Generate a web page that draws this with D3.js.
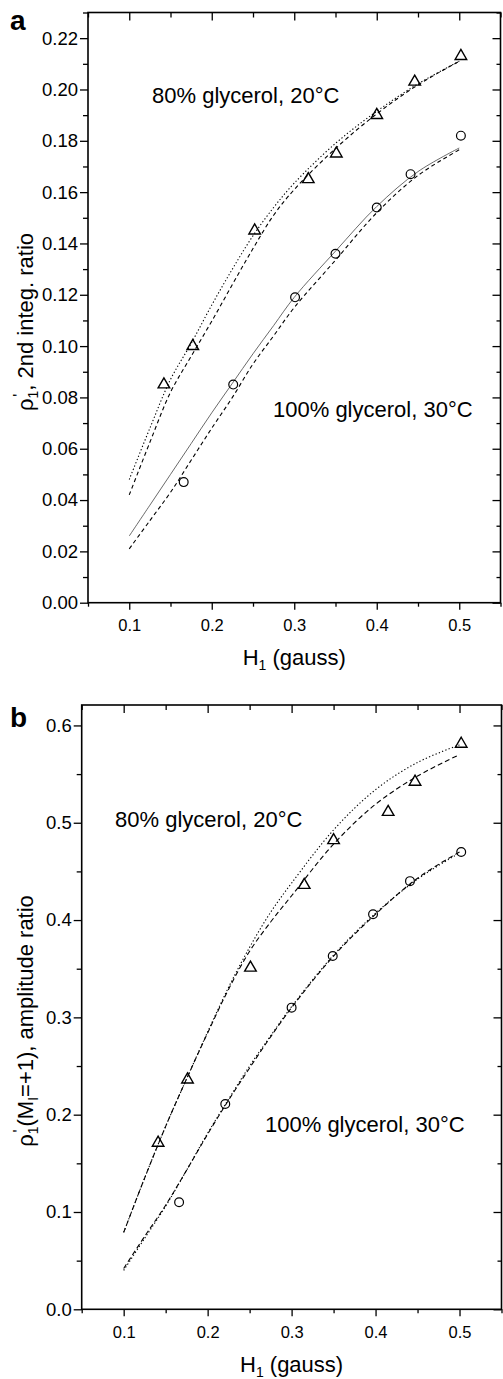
<!DOCTYPE html>
<html><head><meta charset="utf-8">
<script src="https://cdn.jsdelivr.net/npm/d3@7"></script>
<style>
body{margin:0;background:#fff}
svg{display:block}
text{font-family:"Liberation Sans",Arial,Helvetica,sans-serif;fill:#000}
</style>
</head><body>
<svg id="c" width="503" height="1379"></svg>
<script>
// ---------- data ----------
const X_MAJOR = [0.1, 0.2, 0.3, 0.4, 0.5];
const X_MINOR = [0.05, 0.15, 0.25, 0.35, 0.45, 0.55];
const Y_MAJOR_A = [0.00, 0.02, 0.04, 0.06, 0.08, 0.10, 0.12, 0.14, 0.16, 0.18, 0.20, 0.22];
const Y_MINOR_A = [0.01, 0.03, 0.05, 0.07, 0.09, 0.11, 0.13, 0.15, 0.17, 0.19, 0.21, 0.23];
const Y_MAJOR_B = [0.0, 0.1, 0.2, 0.3, 0.4, 0.5, 0.6];
const Y_MINOR_B = [0.05, 0.15, 0.25, 0.35, 0.45, 0.55];

// panel a measured points
const H_A80   = [0.142, 0.177, 0.252, 0.317, 0.351, 0.400, 0.446, 0.502];
const RHO_A80 = [0.085, 0.100, 0.145, 0.165, 0.175, 0.190, 0.203, 0.213];
const H_A100   = [0.166, 0.226, 0.301, 0.350, 0.400, 0.441, 0.502];
const RHO_A100 = [0.047, 0.085, 0.119, 0.136, 0.154, 0.167, 0.182];

// fitted curves
const FIT_H = [0.1, 0.125, 0.15, 0.175, 0.2, 0.225, 0.25, 0.275, 0.3, 0.35, 0.4, 0.45, 0.5];
const FIT_A80_DOT   = [0.048, 0.068, 0.087, 0.101, 0.116, 0.130, 0.143, 0.154, 0.1635, 0.179, 0.1915, 0.2022, 0.211];
const FIT_A80_DASH  = [0.042, 0.0625, 0.082, 0.096, 0.1097, 0.124, 0.138, 0.151, 0.161, 0.177, 0.1905, 0.2018, 0.211];
const FIT_A100_SOLID= [0.026, 0.038, 0.050, 0.062, 0.074, 0.0855, 0.097, 0.108, 0.119, 0.137, 0.1544, 0.168, 0.1772];
const FIT_A100_DASH = [0.021, 0.032, 0.043, 0.0555, 0.068, 0.080, 0.093, 0.104, 0.115, 0.1335, 0.152, 0.1665, 0.1765];

// panel b measured points
const H_B80   = [0.141, 0.176, 0.251, 0.315, 0.350, 0.415, 0.447, 0.502];
const RHO_B80 = [0.171, 0.236, 0.351, 0.436, 0.482, 0.511, 0.542, 0.581];
const H_B100   = [0.166, 0.221, 0.300, 0.349, 0.397, 0.441, 0.502];
const RHO_B100 = [0.110, 0.211, 0.310, 0.363, 0.406, 0.440, 0.470];

const FIT_B80_DOT   = [0.079, 0.135, 0.188, 0.237, 0.285, 0.331, 0.372, 0.408, 0.438, 0.4926, 0.534, 0.562, 0.580];
const FIT_B80_DASH  = [0.079, 0.135, 0.188, 0.237, 0.284, 0.329, 0.368, 0.398, 0.425, 0.478, 0.519, 0.548, 0.570];
const FIT_B100_DASH = [0.042, 0.075, 0.107, 0.143, 0.180, 0.215, 0.248, 0.280, 0.310, 0.363, 0.406, 0.443, 0.470];
const FIT_B100_DOT  = [0.040, 0.073, 0.106, 0.143, 0.181, 0.216, 0.250, 0.281, 0.311, 0.364, 0.407, 0.442, 0.469];

const LABEL_80 = "80% glycerol, 20°C";
const LABEL_100 = "100% glycerol, 30°C";

// ---------- drawing ----------
const svg = d3.select("#c");
const zip = (a, b) => a.map((v, i) => [v, b[i]]);

function panel(cfg) {
  const x = d3.scaleLinear().domain([0.05, 0.55]).range([cfg.left, cfg.right]);
  const y = d3.scaleLinear().domain([0, cfg.ymax]).range([cfg.bottom, cfg.top]);
  const g = svg.append("g");

  function styleAxis(sel, fs) {
    sel.select(".domain").remove();
    sel.selectAll("line").attr("stroke", "#000").attr("stroke-width", 1.3);
    sel.selectAll("text").attr("font-size", fs).attr("fill", "#000");
    sel.attr("font-family", null).attr("font-size", null);
  }

  // bottom
  g.append("g").attr("transform", `translate(0,${cfg.bottom})`)
    .call(d3.axisBottom(x).tickValues(X_MAJOR).tickFormat(d3.format(".1f")).tickSize(7).tickPadding(10))
    .call(s => styleAxis(s, 16.5));
  g.append("g").attr("transform", `translate(0,${cfg.bottom})`)
    .call(d3.axisBottom(x).tickValues(X_MINOR).tickFormat("").tickSize(4))
    .call(s => styleAxis(s, 16));
  // top (inward)
  g.append("g").attr("transform", `translate(0,${cfg.top})`)
    .call(d3.axisTop(x).tickValues(X_MAJOR).tickFormat("").tickSize(-8))
    .call(s => styleAxis(s, 16));
  g.append("g").attr("transform", `translate(0,${cfg.top})`)
    .call(d3.axisTop(x).tickValues(X_MINOR).tickFormat("").tickSize(-5))
    .call(s => styleAxis(s, 16));
  // left
  g.append("g").attr("transform", `translate(${cfg.left},0)`)
    .call(d3.axisLeft(y).tickValues(cfg.yMajor).tickFormat(d3.format(cfg.yfmt)).tickSize(8).tickPadding(2))
    .call(s => styleAxis(s, 18.5));
  g.append("g").attr("transform", `translate(${cfg.left},0)`)
    .call(d3.axisLeft(y).tickValues(cfg.yMinor).tickFormat("").tickSize(5))
    .call(s => styleAxis(s, 18.5));
  // right (inward)
  g.append("g").attr("transform", `translate(${cfg.right},0)`)
    .call(d3.axisRight(y).tickValues(cfg.yMajor).tickFormat("").tickSize(-8))
    .call(s => styleAxis(s, 18.5));
  g.append("g").attr("transform", `translate(${cfg.right},0)`)
    .call(d3.axisRight(y).tickValues(cfg.yMinor).tickFormat("").tickSize(-4))
    .call(s => styleAxis(s, 18.5));

  // frame
  g.append("rect").attr("x", cfg.left).attr("y", cfg.top)
    .attr("width", cfg.right - cfg.left).attr("height", cfg.bottom - cfg.top)
    .attr("fill", "none").attr("stroke", "#000").attr("stroke-width", 1.6);

  // curves
  const line = d3.line().x(d => x(d[0])).y(d => y(d[1])).curve(d3.curveCatmullRom.alpha(0.5));
  cfg.curves.forEach(c => {
    g.append("path").datum(zip(FIT_H, c.values)).attr("d", line)
      .attr("fill", "none").attr("stroke", c.color || "#000")
      .attr("stroke-width", c.width || 1.1)
      .attr("stroke-dasharray", c.dash || null);
  });

  // markers
  const tri = d3.symbol(d3.symbolTriangle, 58);
  g.selectAll(null).data(zip(cfg.triX, cfg.triY)).join("path")
    .attr("d", tri).attr("transform", d => `translate(${x(d[0])},${y(d[1])})`)
    .attr("fill", "none").attr("stroke", "#000").attr("stroke-width", 1.4);
  g.selectAll(null).data(zip(cfg.cirX, cfg.cirY)).join("circle")
    .attr("cx", d => x(d[0])).attr("cy", d => y(d[1])).attr("r", 4.4)
    .attr("fill", "none").attr("stroke", "#000").attr("stroke-width", 1.2);

  // annotations
  cfg.notes.forEach(n => {
    g.append("text").attr("x", n.x).attr("y", n.y).attr("font-size", 22).text(n.t);
  });

  // panel letter
  g.append("text").attr("x", 10).attr("y", cfg.letterY).attr("font-size", 28)
    .attr("font-weight", "bold").text(cfg.letter);

  // x title
  const xt = g.append("text").attr("x", (cfg.left + cfg.right) / 2).attr("y", cfg.xTitleY)
    .attr("text-anchor", "middle").attr("font-size", 22);
  xt.append("tspan").text("H");
  xt.append("tspan").attr("font-size", 14).attr("dy", 5).text("1");
  xt.append("tspan").attr("dy", -5).text(" (gauss)");

  // y title
  const yt = g.append("text").attr("transform", `translate(33,${cfg.yTitleY}) rotate(-90)`)
    .attr("text-anchor", "middle").attr("font-size", 22);
  cfg.yTitle(yt);

  return {x, y};
}

panel({
  left: 88, right: 500.5, top: 12.5, bottom: 602.7, ymax: 0.23,
  yMajor: Y_MAJOR_A, yMinor: Y_MINOR_A, yfmt: ".2f",
  curves: [
    {values: FIT_A80_DOT, dash: "1.3,2.2"},
    {values: FIT_A80_DASH, dash: "4,3"},
    {values: FIT_A100_SOLID, dash: null, width: 0.8, color: "#444"},
    {values: FIT_A100_DASH, dash: "4,3"}
  ],
  triX: H_A80, triY: RHO_A80, cirX: H_A100, cirY: RHO_A100,
  notes: [{x: 152, y: 103, t: LABEL_80}, {x: 273, y: 417, t: LABEL_100}],
  letter: "a", letterY: 30, xTitleY: 665, yTitleY: 322,
  yTitle: t => {
    t.append("tspan").text("ρ");
    t.append("tspan").attr("font-size", 14).attr("dy", 5).text("1");
    t.append("tspan").attr("font-size", 16).attr("dx", -6).attr("dy", -13).text("'");
    t.append("tspan").attr("dx", 3).attr("dy", 8).text(", 2nd integ. ratio");
  }
});

panel({
  left: 81.7, right: 501.5, top: 705, bottom: 1309.3, ymax: 0.621,
  yMajor: Y_MAJOR_B, yMinor: Y_MINOR_B, yfmt: ".1f",
  curves: [
    {values: FIT_B80_DOT, dash: "1.3,2.2"},
    {values: FIT_B80_DASH, dash: "5,3"},
    {values: FIT_B100_DASH, dash: "5,3"},
    {values: FIT_B100_DOT, dash: "1.3,2.2"}
  ],
  triX: H_B80, triY: RHO_B80, cirX: H_B100, cirY: RHO_B100,
  notes: [{x: 115, y: 827, t: LABEL_80}, {x: 265, y: 1132, t: LABEL_100}],
  letter: "b", letterY: 727, xTitleY: 1372, yTitleY: 1021,
  yTitle: t => {
    t.append("tspan").text("ρ");
    t.append("tspan").attr("font-size", 14).attr("dy", 5).text("1");
    t.append("tspan").attr("font-size", 16).attr("dx", -6).attr("dy", -13).text("'");
    t.append("tspan").attr("dx", 3).attr("dy", 8).text("(M");
    t.append("tspan").attr("font-size", 14).attr("dy", 5).text("I");
    t.append("tspan").attr("dy", -5).text("=+1), amplitude ratio");
  }
});
</script>
</body></html>
